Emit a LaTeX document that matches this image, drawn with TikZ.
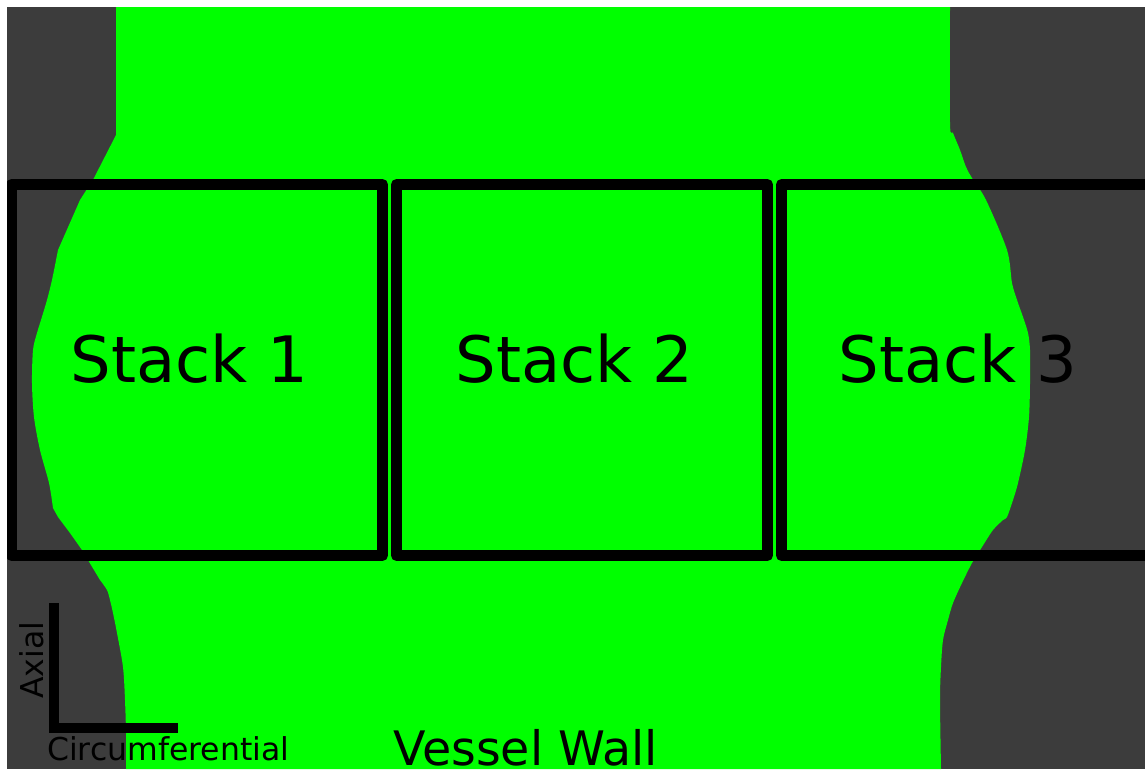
\documentclass[tikz,border=0pt]{standalone}
\usepackage{fontspec}
\setmainfont{DejaVu Sans}
\definecolor{wallgray}{HTML}{3C3C3C}
\definecolor{flowgreen}{HTML}{00FF00}
\tikzset{
  stackbox/.style={draw=black, line width=11pt, line join=round},
  stacklabel/.style={font=\fontsize{64}{70}\selectfont, anchor=base, inner sep=0pt},
  axisline/.style={draw=black, line width=10pt, line cap=butt, line join=miter},
  axislabel/.style={font=\fontsize{31.5}{34}\selectfont, inner sep=0pt},
}
\begin{document}
\begin{tikzpicture}[x=1pt, y=-1pt]
\useasboundingbox (0,0) rectangle (1145,769);
\begin{scope}
\clip (7,7) rectangle (1145,769);
% vessel wall background
\fill[wallgray] (7,7) rectangle (1145,769);
% lumen region between the two walls
\fill[flowgreen]
  (116,7) -- (116,135) -- (94,178) -- (80,200) -- (58,250)
  -- plot[smooth, tension=0.5] coordinates {(58,250) (52,280) (47,300) (41,320) (37,333) (33,350) (32,383) (34,417) (40,450) (49,483) (53,508)}
  -- (58,517) -- (70,533) -- (82,550) -- (100,580)
  -- plot[smooth, tension=0.5] coordinates {(100,580) (107,590) (110,600) (113,613) (117,633) (123,667) (125,700) (126,733) (126,769)}
  -- (941,769)
  -- plot[smooth, tension=0.5] coordinates {(941,769) (940,700) (941,667) (943,640) (948,620) (953,603) (962,583) (972,563) (982,547) (993,530) (1003,520) (1007,517) (1013,500) (1018,483) (1025,450) (1029,417) (1030,383) (1030,350) (1028,333) (1023,317) (1017,300) (1012,283) (1007,250) (986,200) (972,178) (966,167) (960,150) (953,133) (950,123) (950,7)}
  -- cycle;
% the three stacks
\draw[stackbox] (11.5,184.5) rectangle (382.5,555.5);
\draw[stackbox] (396.5,184.5) rectangle (767.5,555.5);
\draw[stackbox] (781.5,184.5) rectangle (1152.5,555.5);
\end{scope}
\node[stacklabel] (s1) at (189.5,382) {Stack 1};
\node[stacklabel] (s2) at (574.5,382) {Stack 2};
\node[stacklabel] (s3) at (958,382) {Stack 3};
% orientation axes
\coordinate (axtop) at (54,603);
\coordinate (axcorner) at (54,727.5);
\coordinate (axright) at (178,727.5);
\draw[axisline] (axtop) -- (axcorner) -- (axright);
\node[axislabel, anchor=base west] (circ) at (47,760) {Circumferential};
\node[axislabel, anchor=base west, rotate=90] (axial) at (43,699) {Axial};
\node[font=\fontsize{47.5}{50}\selectfont, anchor=base, inner sep=0pt] (wall) at (525.5,765) {Vessel Wall};
\end{tikzpicture}
\end{document}
